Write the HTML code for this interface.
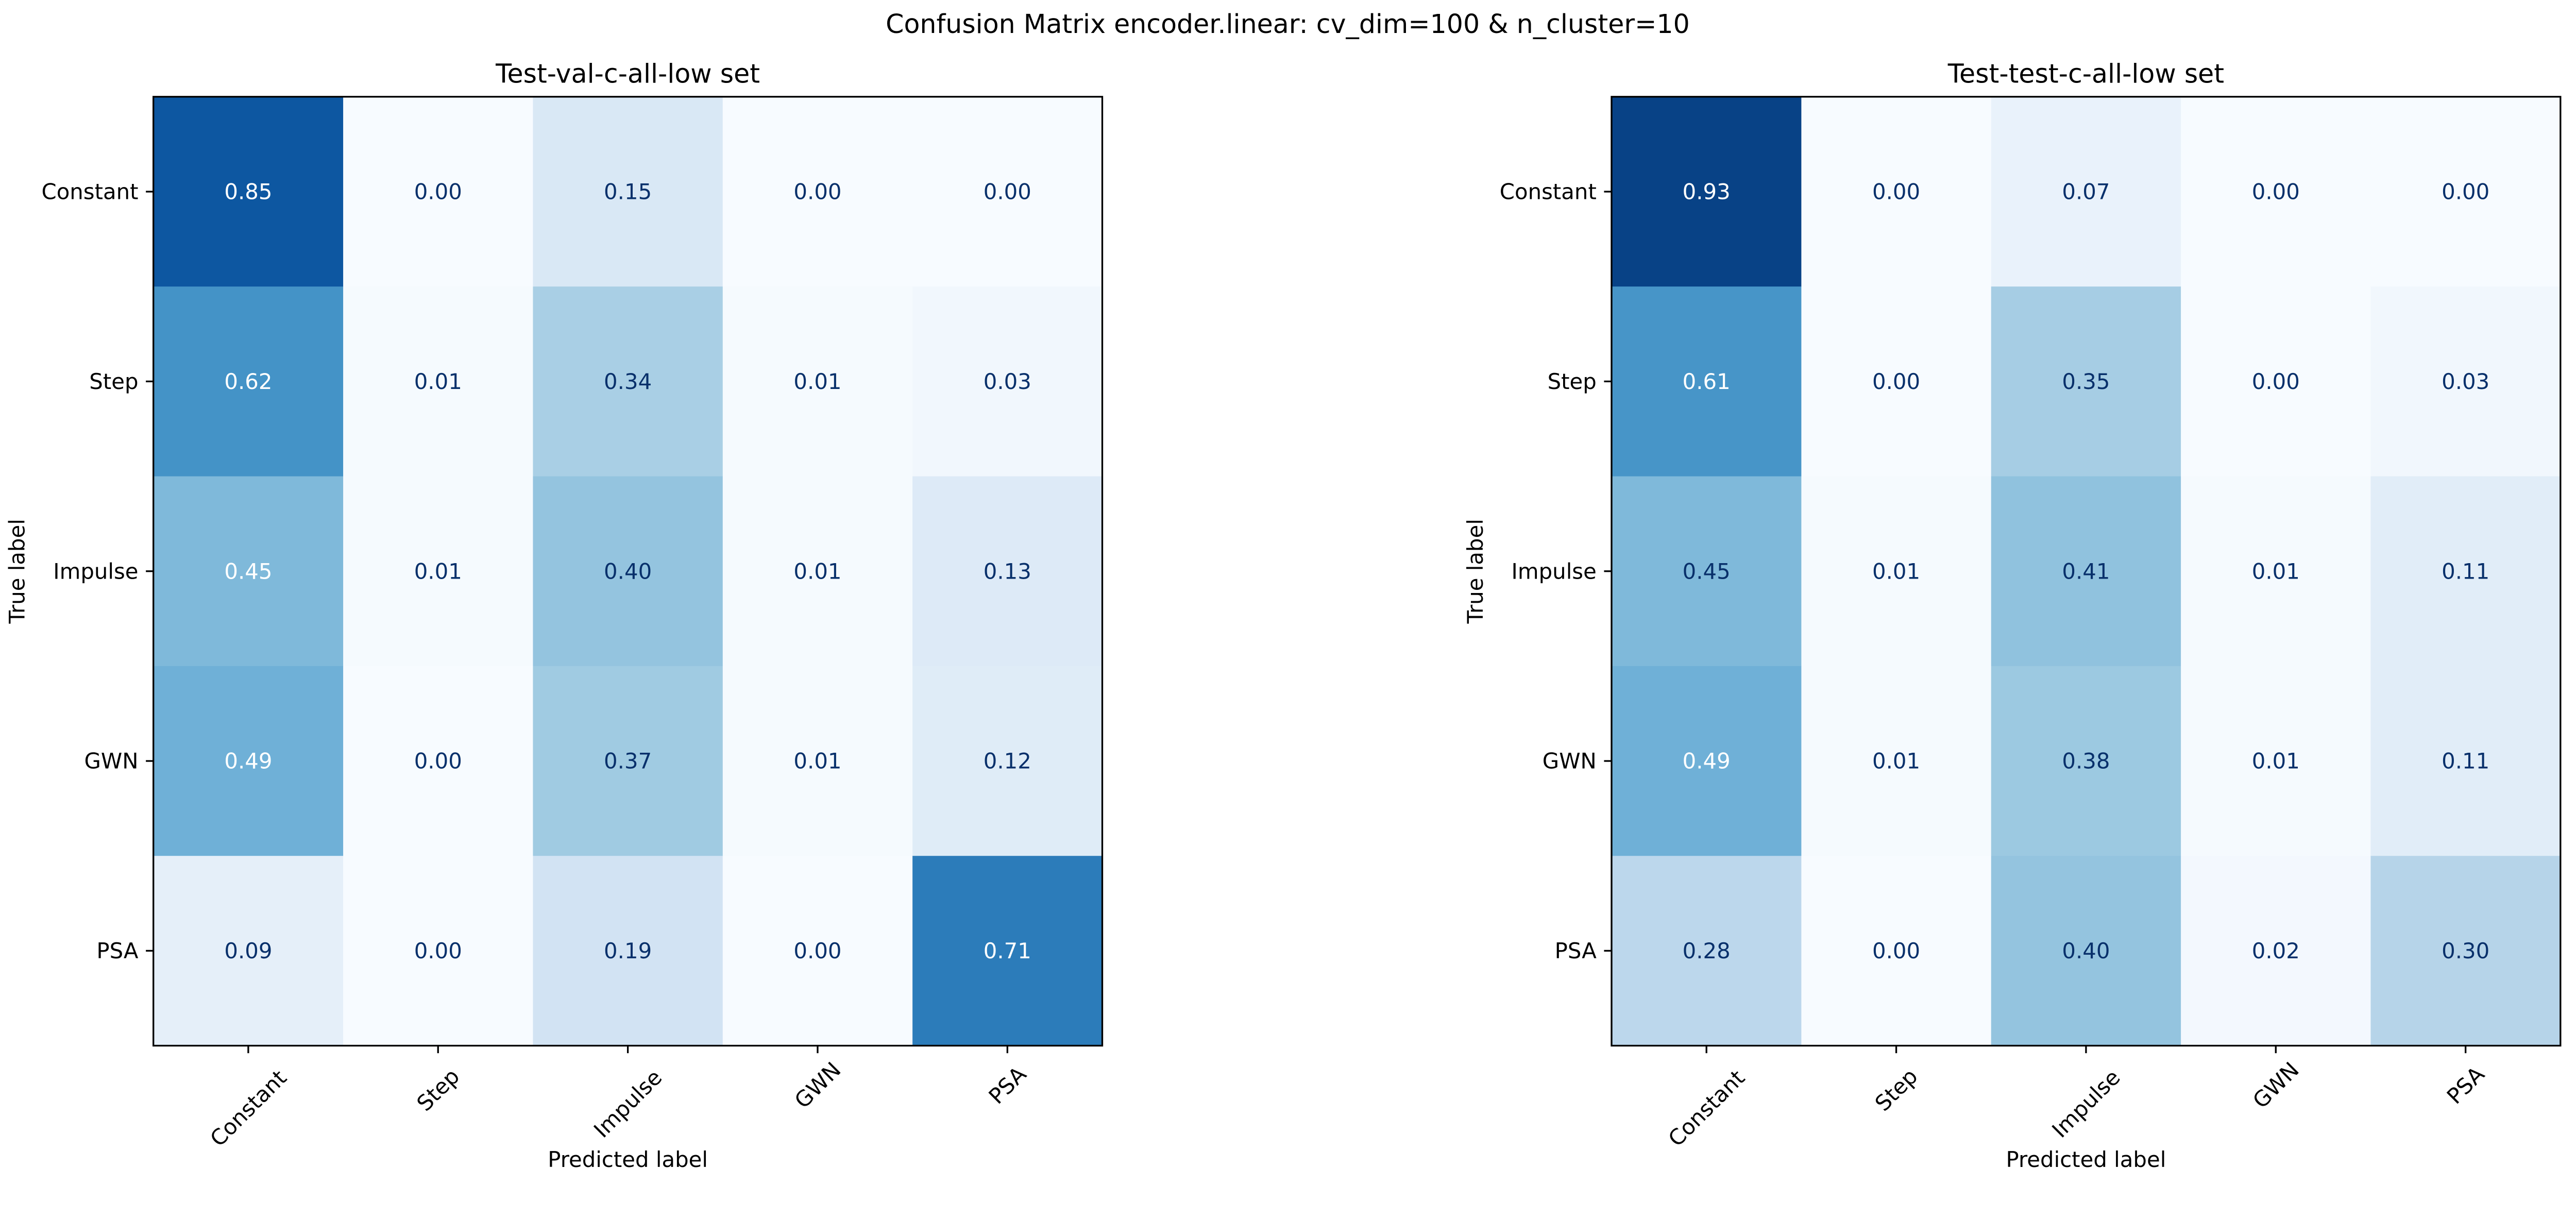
<!DOCTYPE html>
<html><head><meta charset="utf-8"><style>
html,body{margin:0;padding:0;background:#fff;overflow:hidden;}
svg{display:block;width:100vw;height:calc(100vw * 2366 / 5139);font-family:"DejaVu Sans","Liberation Sans",sans-serif;}
</style></head><body>
<svg id="fig" viewBox="0 0 5139 2366" preserveAspectRatio="xMinYMin meet" xmlns="http://www.w3.org/2000/svg">
<rect width="5139" height="2366" fill="#fff"/>
<text x="2569" y="66" font-size="52" text-anchor="middle">Confusion Matrix encoder.linear: cv_dim=100 &amp; n_cluster=10</text>
</svg>
<script>
const categories = ["Constant","Step","Impulse","GWN","PSA"];
const panelTitles = ["Test-val-c-all-low set","Test-test-c-all-low set"];
const valuesVal = [[0.85,0.00,0.15,0.00,0.00],[0.62,0.01,0.34,0.01,0.03],[0.45,0.01,0.40,0.01,0.13],[0.49,0.00,0.37,0.01,0.12],[0.09,0.00,0.19,0.00,0.71]];
const valuesTest = [[0.93,0.00,0.07,0.00,0.00],[0.61,0.00,0.35,0.00,0.03],[0.45,0.01,0.41,0.01,0.11],[0.49,0.01,0.38,0.01,0.11],[0.28,0.00,0.40,0.02,0.30]];

const NS="http://www.w3.org/2000/svg";
const svg=document.getElementById('fig');
const blues=["#f7fbff","#deebf7","#c6dbef","#9ecae1","#6baed6","#4292c6","#2171b5","#08519c","#08306b"];
function hex(c){return [1,3,5].map(i=>parseInt(c.substr(i,2),16));}
function cmap(t){t=Math.max(0,Math.min(1,t));const p=t*8,i=Math.min(7,Math.floor(p)),f=p-i;const a=hex(blues[i]),b=hex(blues[i+1]);return 'rgb('+a.map((v,k)=>Math.round(v+(b[k]-v)*f)).join(',')+')';}
function mk(tag,attrs,parent){const e=document.createElementNS(NS,tag);for(const k in attrs)e.setAttribute(k,attrs[k]);(parent||svg).appendChild(e);return e;}

function panel(x0,data,title,key){
  const y0=193,size=1893,n=categories.length,cell=size/n;
  const g=mk('g',{});
  
  
  const flat=data.flat(),mx=Math.max(...flat),mn=Math.min(...flat),th=(mx+mn)/2;
  const sx=j=>x0+j*cell, sy=i=>y0+i*cell;
  data.forEach((row,i)=>row.forEach((v,j)=>{
    const r=mk('rect',{x:sx(j),y:sy(i),width:cell+0.5,height:cell+0.5,fill:cmap(v)},g);
    
    
    const t=mk('text',{x:sx(j)+cell/2,y:sy(i)+cell/2+15,'font-size':43,'text-anchor':'middle',fill:v<th?'#08306b':'#ffffff'},g);
    t.textContent=v.toFixed(2);
    
    
  }));
  const fr=mk('rect',{x:x0,y:y0,width:size,height:size,fill:'none',stroke:'#000','stroke-width':3.4},g);
  
  
  const tt=mk('text',{x:x0+size/2,y:y0-28,'font-size':52,'text-anchor':'middle'},g);
  tt.textContent=title;
  
  
  categories.forEach((c,i)=>{
    const cy=sy(i)+cell/2;
    mk('line',{x1:x0-15,x2:x0,y1:cy,y2:cy,stroke:'#000','stroke-width':3.4},g);
    const yl=mk('text',{x:x0-30,y:cy+15,'font-size':43,'text-anchor':'end'},g);
    yl.textContent=c;
    
    
    const cx=sx(i)+cell/2;
    mk('line',{x1:cx,x2:cx,y1:y0+size,y2:y0+size+15,stroke:'#000','stroke-width':3.4},g);
    const xl=mk('text',{x:0,y:0,'font-size':43,'text-anchor':'middle'},g);
    xl.textContent=c;
    
    
    const w=c.length*26,h=43;
    const half=(w+h)*0.7071/2;
    xl.setAttribute('transform','translate('+cx+','+(2122+half)+') rotate(-45) translate(0,15)');
  });
  const xa=mk('text',{x:x0+size/2,y:2328,'font-size':43,'text-anchor':'middle'},g);
  xa.textContent='Predicted label';
  
  
  const ya=mk('text',{x:0,y:0,'font-size':43,'text-anchor':'middle',transform:'translate('+(x0-257)+','+(y0+size/2)+') rotate(-90)'},g);
  ya.textContent='True label';
  
  
}
panel(306,valuesVal,panelTitles[0],'val');
panel(3215,valuesTest,panelTitles[1],'test');
</script>
</body></html>
